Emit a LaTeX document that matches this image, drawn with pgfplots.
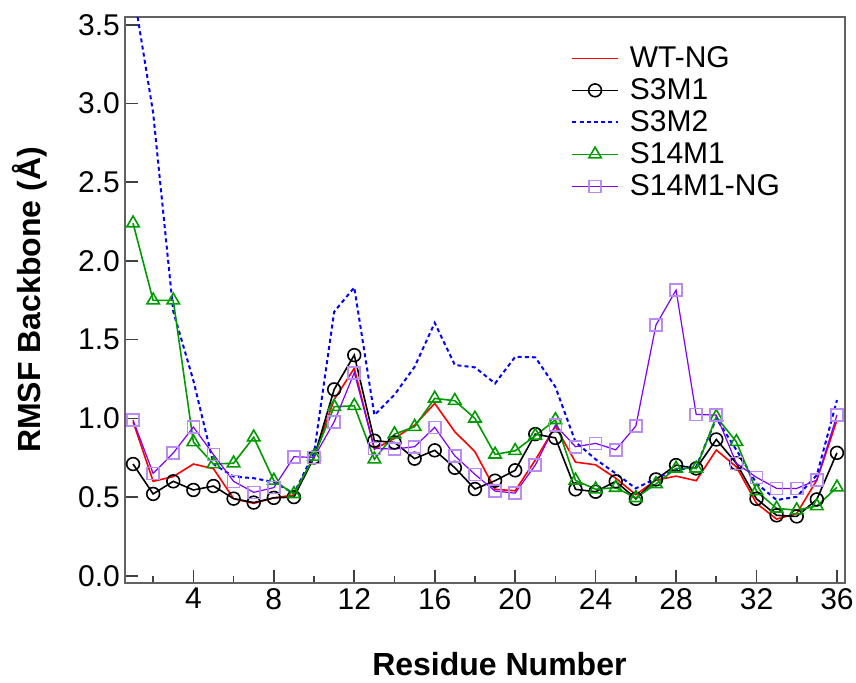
\documentclass[border=0pt]{standalone}
\usepackage{fontspec}
\setmainfont{Liberation Sans}
\usepackage{pgfplots}
\pgfplotsset{compat=1.18}
\usepackage{pgfplotstable}
\definecolor{mygreen}{RGB}{0,155,0}
\definecolor{myviolet}{RGB}{127,0,255}
\definecolor{mysq}{RGB}{185,140,245}

\pgfplotstableread{
x wt s3m1 s3m2 s14m1 s14ng
1 0.98 0.71 3.73 2.24 0.99
2 0.60 0.52 2.94 1.75 0.65
3 0.63 0.60 1.68 1.75 0.78
4 0.71 0.545 1.24 0.85 0.945
5 0.68 0.57 0.71 0.71 0.77
6 0.49 0.49 0.63 0.715 0.60
7 0.46 0.465 0.62 0.88 0.53
8 0.495 0.495 0.595 0.605 0.56
9 0.513 0.50 0.523 0.52 0.756
10 0.756 0.752 0.78 0.758 0.752
11 1.12 1.184 1.677 1.074 0.978
12 1.318 1.402 1.832 1.08 1.29
13 0.805 0.858 1.021 0.74 0.809
14 0.873 0.847 1.15 0.90 0.805
15 0.957 0.744 1.328 0.947 0.82
16 1.095 0.797 1.607 1.127 0.943
17 0.915 0.686 1.339 1.112 0.762
18 0.788 0.551 1.324 1.0 0.644
19 0.549 0.604 1.222 0.771 0.538
20 0.54 0.67 1.391 0.794 0.525
21 0.735 0.90 1.388 0.89 0.703
22 0.95 0.876 1.20 0.99 0.957
23 0.722 0.549 0.85 0.606 0.82
24 0.705 0.534 0.74 0.55 0.841
25 0.62 0.60 0.65 0.56 0.80
26 0.515 0.489 0.555 0.495 0.951
27 0.608 0.612 0.619 0.583 1.593
28 0.633 0.703 0.672 0.682 1.815
29 0.604 0.682 0.692 0.682 1.025
30 0.799 0.866 1.0 1.01 1.021
31 0.692 0.714 0.799 0.851 0.714
32 0.46 0.489 0.587 0.538 0.625
33 0.36 0.384 0.481 0.428 0.555
34 0.396 0.377 0.502 0.417 0.555
35 0.608 0.485 0.64 0.443 0.608
36 0.989 0.781 1.116 0.562 1.021
}\data

\begin{document}
\begin{tikzpicture}
\begin{axis}[name=ax, scale only axis, width=360pt, height=283pt,
  xmin=0.6, xmax=36.4, ymin=-0.046, ymax=3.55,
  xtick={4,8,...,36}, minor xtick={2,6,...,34}, ytick={0,0.5,...,3.5},
  xtick pos=left, ytick pos=left,
  tick align=inside, major tick length=6.5pt, minor tick length=3.5pt,
  axis line style={draw=black!62, line width=0.9pt},
  tick style={black!75, line width=0.8pt},
  /pgf/number format/assume math mode=true,
  ticklabel style={font=\fontsize{15}{17}\selectfont},
  yticklabel style={/pgf/number format/fixed, /pgf/number format/fixed zerofill, /pgf/number format/precision=1, xshift=1pt},
  xticklabel style={yshift=1pt},
  xlabel={Residue Number}, ylabel={RMSF Backbone (Å)},
  label style={font=\fontsize{16}{19}\selectfont\bfseries},
  xlabel style={at={(axis description cs:0.52,-0.143)}, anchor=center},
  ylabel style={at={(axis description cs:-0.132,0.5)}, anchor=center},
  legend style={at={(0.611,0.963)}, anchor=north west, draw=none, fill=none,
    font=\fontsize{15}{17}\selectfont,
    nodes={text height=11pt, text depth=2pt, inner sep=1.5pt}, row sep=0pt,
    /tikz/every odd column/.style={column sep=4pt}},
  legend cell align=left,
  legend image code/.code={\draw[mark repeat=2,mark phase=2] plot coordinates {(0cm,0cm)(0.4cm,0cm)(0.8cm,0cm)};},
]
\addplot[red, line width=0.8pt] table[x=x,y=wt]{\data};
\addlegendentry{WT-NG}
\addplot[black, line width=0.8pt, mark=o, mark size=3.2pt, mark options={fill=white, solid}] table[x=x,y=s3m1]{\data};
\addlegendentry{S3M1}
\addplot[blue, line width=1pt, dash pattern=on 2pt off 1.6pt] table[x=x,y=s3m2]{\data};
\addlegendentry{S3M2}
\addplot[mygreen, line width=0.8pt, mark=triangle, mark size=3.6pt, mark options={solid}] table[x=x,y=s14m1]{\data};
\addlegendentry{S14M1}
\addplot[myviolet, line width=0.6pt, mark=square, mark size=3pt, mark options={draw=mysq, line width=0.8pt, solid}] table[x=x,y=s14ng]{\data};
\addlegendentry{S14M1-NG}
\end{axis}
\pgfresetboundingbox
\path ([xshift=-62.5pt,yshift=-49.5pt]ax.south west) rectangle ([xshift=5.5pt,yshift=8.5pt]ax.north east);
\end{tikzpicture}
\end{document}
